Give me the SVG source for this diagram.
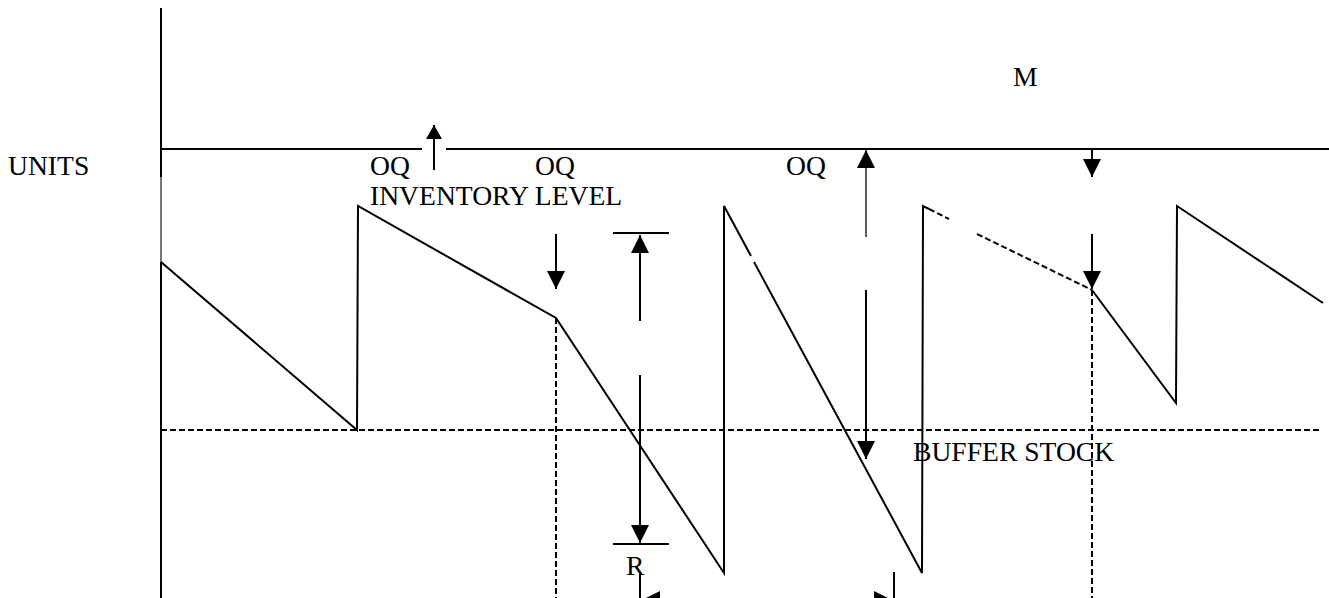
<svg xmlns="http://www.w3.org/2000/svg" width="1329" height="598" viewBox="0 0 1329 598">
<style>
  .ln { stroke: #000; stroke-width: 2; fill: none; }
  .thin { stroke: #000; stroke-width: 1.3; fill: none; }
  .dash { stroke: #000; stroke-width: 2; fill: none; stroke-dasharray: 6 3; }
  .txt { font-family: "Liberation Serif", "Times New Roman", serif; font-size: 27.6px; fill: #000; }
</style>
<defs>
  <marker id="ah" markerUnits="userSpaceOnUse" markerWidth="18" markerHeight="18" refX="18" refY="9" orient="auto">
    <path d="M0,0 L18,9 L0,18 z" fill="#000"/>
  </marker>
  <marker id="ahs" markerUnits="userSpaceOnUse" markerWidth="14" markerHeight="16" refX="14" refY="8" orient="auto">
    <path d="M0,0 L14,8 L0,16 z" fill="#000"/>
  </marker>
</defs>
<rect width="1329" height="598" fill="#fff"/>

<g id="axes">
  <line class="ln" x1="161" y1="8" x2="161" y2="177"/>
  <line x1="161" y1="177" x2="161" y2="262" stroke="#777" stroke-width="2"/>
  <line class="ln" x1="161" y1="262" x2="161" y2="598"/>
  <line class="ln" x1="161" y1="149" x2="422" y2="149"/>
  <line class="ln" x1="446" y1="149" x2="1329" y2="149"/>
</g>

<g id="inventory-curve">
  <polyline class="ln" points="161,262 357,430 358,206 556,318 724,573 724,206 751,256"/>
  <polyline class="ln" points="754,262 922,573 923,206 929,209"/>
  <line class="dash" x1="929" y1="209" x2="949" y2="219"/>
  <line class="dash" x1="977" y1="234" x2="1092" y2="290"/>
  <polyline class="ln" points="1092,290 1176,403 1177,206 1323,303"/>
</g>

<g id="guides">
  <line class="dash" x1="161" y1="430" x2="1322" y2="430"/>
  <line class="dash" x1="556" y1="318" x2="556" y2="598"/>
  <line class="dash" x1="1092" y1="290" x2="1092" y2="598"/>
</g>

<g id="connectors">
  <line class="ln" x1="434" y1="170" x2="434" y2="125" marker-end="url(#ahs)"/>
  <line class="ln" x1="556" y1="234" x2="556" y2="289" marker-end="url(#ah)"/>
  <line class="ln" x1="613" y1="233" x2="669" y2="233"/>
  <line class="ln" x1="640" y1="321" x2="640" y2="235" marker-end="url(#ah)"/>
  <line class="ln" x1="640" y1="375" x2="640" y2="543" marker-end="url(#ah)"/>
  <line class="ln" x1="613" y1="544" x2="669" y2="544"/>
  <line class="thin" x1="866" y1="237" x2="866" y2="150" marker-end="url(#ah)"/>
  <line class="ln" x1="866" y1="290" x2="866" y2="459" marker-end="url(#ah)"/>
  <line class="ln" x1="1092" y1="149" x2="1092" y2="177" marker-end="url(#ah)"/>
  <line class="ln" x1="1092" y1="234" x2="1092" y2="289" marker-end="url(#ah)"/>
  <line class="ln" x1="640" y1="574" x2="640" y2="598"/>
  <line class="ln" x1="894" y1="572" x2="894" y2="598"/>
  <line class="ln" x1="760" y1="600" x2="642" y2="600" marker-end="url(#ah)"/>
  <line class="ln" x1="760" y1="600" x2="892" y2="600" marker-end="url(#ah)"/>
</g>

<g id="labels">
  <text class="txt" x="8" y="175">UNITS</text>
  <text class="txt" x="1013" y="86">M</text>
  <text class="txt" x="370" y="175">OQ</text>
  <text class="txt" x="370" y="205">INVENTORY LEVEL</text>
  <text class="txt" x="535" y="175">OQ</text>
  <text class="txt" x="786" y="175">OQ</text>
  <text class="txt" x="913" y="461">BUFFER STOCK</text>
  <text class="txt" x="626" y="575">R</text>
</g>
</svg>
